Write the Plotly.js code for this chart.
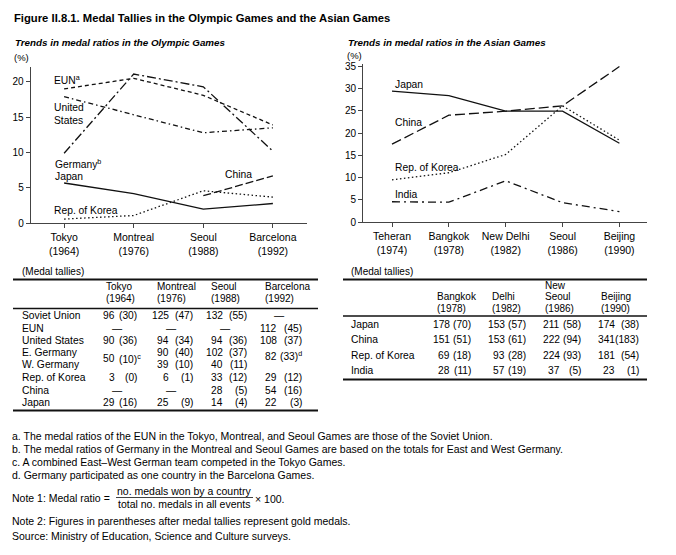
<!DOCTYPE html>
<html>
<head>
<meta charset="utf-8">
<script src="https://cdn.plot.ly/plotly-3.0.1.min.js"></script>
<style>html,body{margin:0;padding:0;background:#fff;}#chart{width:676px;height:555px;}</style>
</head>
<body>
<div id="chart"></div>
<script>
// ---------- DATA ----------
const olyCats = ['Tokyo<br>(1964)', 'Montreal<br>(1976)', 'Seoul<br>(1988)', 'Barcelona<br>(1992)'];
const olyEUN = [19.0, 20.5, 18.1, 13.9];
const olyGermany = [9.9, 21.1, 19.3, 10.2];
const olyUS = [17.9, 15.4, 12.8, 13.5];
const olyJapan = [5.7, 4.2, 2.0, 2.8];
const olyKorea = [0.6, 1.1, 4.6, 3.7];
const olyChina = [null, null, 3.9, 6.7];

const asiaCats = ['Teheran<br>(1974)', 'Bangkok<br>(1978)', 'New Delhi<br>(1982)', 'Seoul<br>(1986)', 'Beijing<br>(1990)'];
const asiaJapan = [29.4, 28.4, 24.9, 24.9, 17.7];
const asiaChina = [17.5, 24.0, 24.9, 26.1, 34.9];
const asiaKorea = [9.5, 11.1, 15.2, 26.1, 18.4];
const asiaIndia = [4.6, 4.5, 9.3, 4.4, 2.4];

const olyTicksY = [0, 5, 10, 15, 20];
const asiaTicksY = [0, 5, 10, 15, 20, 25, 30, 35];

// Olympic medal tallies table
const olyHeadName = ['Tokyo', 'Montreal', 'Seoul', 'Barcelona'];
const olyHeadYear = ['(1964)', '(1976)', '(1988)', '(1992)'];
const olyRows = ['Soviet Union', 'EUN', 'United States', 'E. Germany', 'W. Germany', 'Rep. of Korea', 'China', 'Japan'];
const olyTotal = [
  [96, 125, 132, null],
  [null, null, null, 112],
  [90, 94, 94, 108],
  ['merged', 90, 102, 'merged'],
  ['merged', 39, 40, 'merged'],
  [3, 6, 33, 29],
  [null, null, 28, 54],
  [29, 25, 14, 22]
];
const olyGold = [
  [30, 47, 55, null],
  [null, null, null, 45],
  [36, 34, 36, 37],
  ['merged', 40, 37, 'merged'],
  ['merged', 10, 11, 'merged'],
  [0, 1, 12, 12],
  [null, null, 5, 16],
  [16, 9, 4, 3]
];
const olyGermanyCombined = [[50, 10, 'c'], null, null, [82, 33, 'd']];

// Asian Games medal tallies table
const asiaHeadTop = ['', '', 'New', ''];
const asiaHeadName = ['Bangkok', 'Delhi', 'Seoul', 'Beijing'];
const asiaHeadYear = ['(1978)', '(1982)', '(1986)', '(1990)'];
const asiaRows = ['Japan', 'China', 'Rep. of Korea', 'India'];
const asiaTotal = [
  [178, 153, 211, 174],
  [151, 153, 222, 341],
  [69, 93, 224, 181],
  [28, 57, 37, 23]
];
const asiaGold = [
  [70, 57, 58, 38],
  [51, 61, 94, 183],
  [18, 28, 93, 54],
  [11, 19, 5, 1]
];

const titleText = 'Figure II.8.1. Medal Tallies in the Olympic Games and the Asian Games';
const olySubtitle = 'Trends in medal ratios in the Olympic Games';
const asiaSubtitle = 'Trends in medal ratios in the Asian Games';
const notes = [
  'a. The medal ratios of the EUN in the Tokyo, Montreal, and Seoul Games are those of the Soviet Union.',
  'b. The medal ratios of Germany in the Montreal and Seoul Games are based on the totals for East and West Germany.',
  'c. A combined East\u2013West German team competed in the Tokyo Games.',
  'd. Germany participated as one country in the Barcelona Games.'
];
const note1Lead = 'Note 1: Medal ratio =';
const note1Num = 'no. medals won by a country';
const note1Den = 'total no. medals in all events';
const note1Tail = '\u00d7 100.';
const note2 = 'Note 2: Figures in parentheses after medal tallies represent gold medals.';
const sourceText = 'Source: Ministry of Education, Science and Culture surveys.';

// ---------- LAYOUT HELPERS ----------
const W = 676, H = 555;
const F = 'Liberation Sans, Arial, Helvetica, sans-serif';
const X = p => p / W;
const Y = p => 1 - p / H;
const INK = '#111';
const annotations = [];
const shapes = [];
function txt(text, x, y, o) {
  o = o || {};
  annotations.push({
    text: text, x: X(x), y: Y(y), xref: 'paper', yref: 'paper', showarrow: false,
    xanchor: o.xa || 'left', yanchor: 'middle', align: o.align || 'left',
    font: {family: F, size: o.size || 10.5, color: '#000'}
  });
}
function hline(x0, x1, y, w) {
  shapes.push({type: 'line', xref: 'paper', yref: 'paper', x0: X(x0), x1: X(x1), y0: Y(y), y1: Y(y),
    line: {color: INK, width: w}});
}

// ---------- TRACES ----------
function series(xCats, yVals, dash, axisX, axisY) {
  return {
    type: 'scatter', mode: 'lines', x: xCats.map((c, i) => i), y: yVals,
    xaxis: axisX, yaxis: axisY, connectgaps: false, hoverinfo: 'skip',
    line: {color: INK, width: 1.3, dash: dash}
  };
}
const traces = [
  series(olyCats, olyEUN, '4px,3px', 'x', 'y'),
  series(olyCats, olyGermany, '9px,3px,2px,3px', 'x', 'y'),
  series(olyCats, olyUS, '5px,3px,1.5px,3px', 'x', 'y'),
  series(olyCats, olyJapan, 'solid', 'x', 'y'),
  series(olyCats, olyKorea, '1.5px,2.5px', 'x', 'y'),
  series(olyCats, olyChina, '8px,3px', 'x', 'y'),
  series(asiaCats, asiaJapan, 'solid', 'x2', 'y2'),
  series(asiaCats, asiaChina, '10px,4px', 'x2', 'y2'),
  series(asiaCats, asiaKorea, '1.5px,2.5px', 'x2', 'y2'),
  series(asiaCats, asiaIndia, '8px,4px,2px,4px', 'x2', 'y2')
];

// ---------- TEXT: titles and line labels ----------
txt('<b>' + titleText + '</b>', 12, 18, {size: 11.25});
txt('<b><i>' + olySubtitle + '</i></b>', 13, 43, {size: 9.8});
txt('<b><i>' + asiaSubtitle + '</i></b>', 346, 43, {size: 9.8});
txt('(%)', 12, 57, {size: 9.5});
txt('(%)', 345, 56, {size: 9.5});

txt('EUN<sup>a</sup>', 52, 79, {size: 10.3});
txt('United<br>States', 52, 113.5, {size: 10.3});
txt('Germany<sup>b</sup>', 53, 163, {size: 10.3});
txt('Japan', 53, 176, {size: 10.3});
txt('China', 223, 174, {size: 10.3});
txt('Rep. of Korea', 52, 210, {size: 10.3});

txt('Japan', 393, 84, {size: 10.3});
txt('China', 393, 123, {size: 10.3});
txt('Rep. of Korea', 393, 167, {size: 10.3});
txt('India', 393, 195, {size: 10.3});

// ---------- OLYMPIC TABLE ----------
const TS = 10.2;
txt('(Medal tallies)', 20, 271.5, {size: 10});
hline(13, 318, 279.5, 2);
hline(13, 318, 308.5, 1.5);
hline(13, 318, 410.5, 2);
const olyColLeft = [106, 157, 211, 265];
const olyNumRight = [116, 170, 224, 278];
const olyGoldRight = [138, 194, 248, 303];
const olyRowY = [315.5, 328, 340.5, 352.5, 364.5, 377.5, 390, 402.5];
olyHeadName.forEach((h, j) => {
  txt(h, olyColLeft[j] - 2, 286.5, {size: 10});
  txt(olyHeadYear[j], olyColLeft[j] - 2, 298.5, {size: 10});
});
olyRows.forEach((r, i) => {
  txt(r, 20, olyRowY[i], {size: 10.3});
  olyTotal[i].forEach((v, j) => {
    if (v === 'merged') return;
    if (v === null) { txt('\u2014', olyNumRight[j] + 1, olyRowY[i], {xa: 'center', size: TS}); return; }
    txt(String(v), olyNumRight[j] + 1, olyRowY[i], {xa: 'right', size: TS});
    txt('(' + olyGold[i][j] + ')', olyGoldRight[j] + 1, olyRowY[i], {xa: 'right', size: TS});
  });
});
olyGermanyCombined.forEach((c, j) => {
  if (!c) return;
  const yy = j === 0 ? 358.5 : 356;
  txt(String(c[0]), olyNumRight[j] + 1, yy, {xa: 'right', size: TS});
  txt('(' + c[1] + ')<sup>' + c[2] + '</sup>', olyGoldRight[j] + 5 - (j === 3 ? 4 : 0), yy, {xa: 'right', size: TS});
});

// ---------- ASIAN TABLE ----------
txt('(Medal tallies)', 349, 271.5, {size: 10});
hline(343, 647, 279.5, 2);
hline(343, 647, 316, 1.5);
hline(343, 647, 379.5, 2);
const asiaColLeft = [437, 492, 545, 601];
const asiaGoldRight = [472, 527, 582, 640];
const asiaNumRight = [451, 506, 561, 616];
const asiaRowY = [324.5, 339.5, 355, 370.5];
asiaHeadName.forEach((h, j) => {
  if (asiaHeadTop[j]) txt(asiaHeadTop[j], asiaColLeft[j] - 2, 285.5, {size: 10});
  txt(h, asiaColLeft[j] - 2, 296.8, {size: 10});
  txt(asiaHeadYear[j], asiaColLeft[j] - 2, 308, {size: 10});
});
asiaRows.forEach((r, i) => {
  txt(r, 349, asiaRowY[i], {size: 10.3});
  asiaTotal[i].forEach((v, j) => {
    txt(String(v), asiaNumRight[j] + 1, asiaRowY[i], {xa: 'right', size: TS});
    txt('(' + asiaGold[i][j] + ')', asiaGoldRight[j] + 1, asiaRowY[i], {xa: 'right', size: TS});
  });
});

// ---------- NOTES ----------
const NS = 10.5;
const noteY = [436, 449, 462, 475];
notes.forEach((n, i) => txt(n, 10, noteY[i], {size: NS}));
txt(note1Lead, 10, 498, {size: NS});
txt(note1Num, 184, 491, {size: NS, xa: 'center'});
txt(note1Den, 184, 504, {size: NS, xa: 'center'});
hline(116, 253, 497.5, 0.8);
txt(note1Tail, 253, 498.5, {size: NS});
txt(note2, 10, 521, {size: NS});
txt(sourceText, 10, 536, {size: NS});

// ---------- AXES ----------
const axBase = {
  showgrid: false, zeroline: false, showline: true, linecolor: '#444', linewidth: 1,
  ticks: 'outside', ticklen: 4, tickcolor: '#444', tickwidth: 1, fixedrange: true,
  tickfont: {family: F, size: 10.5, color: '#000'}
};
const layout = {
  width: W, height: H, margin: {l: 0, r: 0, t: 0, b: 0}, showlegend: false,
  paper_bgcolor: '#fff', plot_bgcolor: '#fff', font: {family: F, color: '#000'},
  xaxis: Object.assign({}, axBase, {domain: [X(30.7), X(307)], range: [-0.48, 3.49],
    tickmode: 'array', tickvals: olyCats.map((c, i) => i), ticktext: olyCats, anchor: 'y'}),
  yaxis: Object.assign({}, axBase, {domain: [Y(223.3), Y(67)], range: [0, 22.1],
    tickmode: 'array', tickvals: olyTicksY, ticktext: olyTicksY.map(String), anchor: 'x',
    tickfont: {family: F, size: 10, color: '#000'}}),
  xaxis2: Object.assign({}, axBase, {domain: [X(363), X(646.7)], range: [-0.51, 4.48],
    tickmode: 'array', tickvals: asiaCats.map((c, i) => i), ticktext: asiaCats, anchor: 'y2'}),
  yaxis2: Object.assign({}, axBase, {domain: [Y(222.3), Y(64.3)], range: [0, 35.4],
    tickmode: 'array', tickvals: asiaTicksY, ticktext: asiaTicksY.map(String), anchor: 'x2',
    tickfont: {family: F, size: 10, color: '#000'}}),
  annotations: annotations,
  shapes: shapes
};
Plotly.newPlot('chart', traces, layout, {staticPlot: true, displayModeBar: false});
</script>
</body>
</html>
